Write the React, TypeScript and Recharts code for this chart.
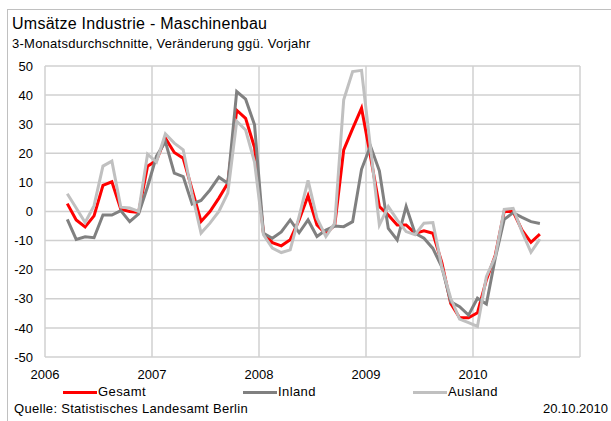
import React from 'react';
import { LineChart, Line, XAxis, YAxis, CartesianGrid } from 'recharts';

const months = [
  '2006-03', '2006-04', '2006-05', '2006-06', '2006-07', '2006-08', '2006-09', '2006-10', '2006-11', '2006-12',
  '2007-01', '2007-02', '2007-03', '2007-04', '2007-05', '2007-06', '2007-07', '2007-08', '2007-09', '2007-10', '2007-11', '2007-12',
  '2008-01', '2008-02', '2008-03', '2008-04', '2008-05', '2008-06', '2008-07', '2008-08', '2008-09', '2008-10', '2008-11', '2008-12',
  '2009-01', '2009-02', '2009-03', '2009-04', '2009-05', '2009-06', '2009-07', '2009-08', '2009-09', '2009-10', '2009-11', '2009-12',
  '2010-01', '2010-02', '2010-03', '2010-04', '2010-05', '2010-06', '2010-07', '2010-08',
];

const gesamt = [
  2.7, -2.9, -5.3, -1.5, 9, 10.2, 0.8, 0, -0.3, 15.6,
  17.5, 25.2, 20.3, 18.3, 7.5, -3.4, 0, 4.6, 9.7, 34.8, 32, 22,
  -7.4, -10.7, -11.8, -9.7, -2.9, 5.4, -4.6, -7.7, -4.6, 21.2, 28.5, 35.5,
  19, 1.7, -1.2, -4.6, -4.6, -7.5, -6.6, -7.5, -17.5, -31.6, -36.5, -36.5,
  -34.8, -23.5, -15, 0, 0, -6.4, -10.6, -7.8,
];

const inland = [
  -2.7, -9.6, -8.7, -9, -1.2, -1.2, 0.3, -3.5, -0.8, 8.5,
  19, 24, 13.2, 12, 2.6, 3.8, 7.4, 11.8, 9.7, 41.2, 38.6, 29.8,
  -7.5, -9.2, -7, -2.9, -7.3, -2.9, -8.6, -6.4, -5, -5.2, -3.5, 14.5,
  22.5, 14, -5.8, -9.8, 1.7, -7.5, -9.2, -12.7, -19, -31, -32.7, -35.6,
  -29.8, -31.8, -16, -2.7, -0.4, -2, -3.5, -4.1,
];

const ausland = [
  6.1, 1.2, -3.8, 2, 15.6, 17.3, 1.5, 1.2, 0, 19.7,
  17, 26.7, 23.5, 21.2, 6, -7.4, -4, 0, 6.3, 31, 28, 17,
  -8, -12.6, -14.1, -13.2, -1.7, 10.7, -2.3, -8.6, -4, 38.4, 48.1, 48.5,
  22, -4.6, 1.7, -2.9, -6.9, -8, -4, -3.8, -19, -29.8, -37, -38.2,
  -39.5, -22.4, -15.5, 0.7, 1.1, -7, -14, -9.5,
];

const yearLabels = ['2006', '2007', '2008', '2009', '2010'];
const yTicks = [-50, -40, -30, -20, -10, 0, 10, 20, 30, 40, 50];
const xTicks = [0, 12, 24, 36, 48, 60];

const seriesNames = ['Gesamt', 'Inland', 'Ausland'];
const seriesColors = ['#ff0000', '#808080', '#c0c0c0'];
const legendLeft = [63, 243, 413];

const data = months.map((m, i) => {
  const [y, mo] = m.split('-').map(Number);
  return {
    t: (y - 2006) * 12 + (mo - 1) + 0.5,
    gesamt: gesamt[i],
    inland: inland[i],
    ausland: ausland[i],
  };
});

const FONT = '"Liberation Sans", Arial, sans-serif';
const tickStyle = { fontSize: 13, fill: '#000', fontFamily: FONT };

export default function App() {
  return (
    <div
      style={{
        position: 'absolute',
        left: 0,
        top: 0,
        width: 611,
        height: 421,
        background: '#fff',
        fontFamily: FONT,
        color: '#000',
        overflow: 'hidden',
      }}
    >
      <div
        style={{
          position: 'absolute',
          left: 7,
          top: 9,
          width: 604,
          height: 412,
          borderTop: '1.5px solid #c0c0c0',
          borderLeft: '1.5px solid #c0c0c0',
          boxSizing: 'border-box',
        }}
      />
      <div style={{ position: 'absolute', left: 12, top: 16, fontSize: 16, lineHeight: '16px', letterSpacing: 0.25, whiteSpace: 'nowrap' }}>
        Umsätze Industrie - Maschinenbau
      </div>
      <div style={{ position: 'absolute', left: 12, top: 36.7, fontSize: 13, lineHeight: '13px', letterSpacing: 0.25, whiteSpace: 'nowrap' }}>
        3-Monatsdurchschnitte, Veränderung ggü. Vorjahr
      </div>
      <div style={{ position: 'absolute', left: 0, top: 0 }}>
        <LineChart width={611} height={421} data={data} margin={{ top: 66, right: 0, bottom: 34, left: 0 }}>
          <CartesianGrid
            yAxisId="left"
            stroke="#d0d0d0"
            strokeWidth={1.5}
            horizontalValues={yTicks}
            verticalValues={xTicks}
          />
          <XAxis
            dataKey="t"
            type="number"
            domain={[0, 60]}
            ticks={xTicks}
            tickFormatter={(v: number) => yearLabels[v / 12] ?? ''}
            axisLine={false}
            tickLine={false}
            tickSize={0}
            tickMargin={13}
            height={30}
            tick={tickStyle}
            interval={0}
          />
          <YAxis
            yAxisId="left"
            orientation="left"
            domain={[-50, 50]}
            ticks={yTicks}
            width={45}
            axisLine={false}
            tickLine={false}
            tickSize={0}
            tickMargin={12}
            tick={tickStyle}
            interval={0}
          />
          <YAxis
            yAxisId="right"
            orientation="right"
            domain={[-50, 50]}
            ticks={yTicks}
            width={31}
            axisLine={false}
            tickLine={false}
            tickSize={0}
            tickMargin={11}
            tick={{ ...tickStyle, textAnchor: 'start' }}
            interval={0}
          />
          <Line yAxisId="left" type="linear" dataKey="gesamt" stroke={seriesColors[0]} strokeWidth={3} dot={false} isAnimationActive={false} />
          <Line yAxisId="left" type="linear" dataKey="inland" stroke={seriesColors[1]} strokeWidth={3} dot={false} isAnimationActive={false} />
          <Line yAxisId="left" type="linear" dataKey="ausland" stroke={seriesColors[2]} strokeWidth={3} dot={false} isAnimationActive={false} />
        </LineChart>
      </div>
      {seriesNames.map((name, i) => (
        <div key={name} style={{ position: 'absolute', left: legendLeft[i], top: 384, height: 16, display: 'flex', alignItems: 'center' }}>
          <div style={{ width: 34, height: 3, background: seriesColors[i] }} />
          <span style={{ fontSize: 13, lineHeight: '16px', marginLeft: 1, letterSpacing: 0.4 }}>{name}</span>
        </div>
      ))}
      <div style={{ position: 'absolute', left: 14, top: 402.3, fontSize: 13, lineHeight: '13px', letterSpacing: 0.3, whiteSpace: 'nowrap' }}>
        Quelle: Statistisches Landesamt Berlin
      </div>
      <div style={{ position: 'absolute', right: 3, top: 402.3, fontSize: 13, lineHeight: '13px', whiteSpace: 'nowrap' }}>
        20.10.2010
      </div>
    </div>
  );
}
